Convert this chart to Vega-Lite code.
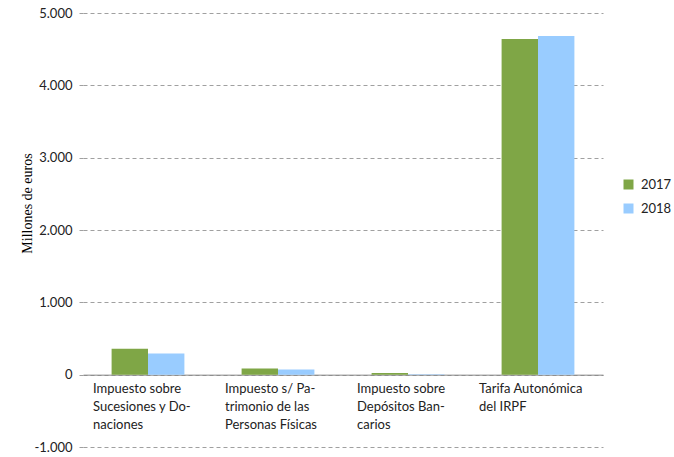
{
  "$schema": "https://vega.github.io/schema/vega-lite/v6.json",
  "width": 520,
  "height": 434,
  "autosize": "none",
  "padding": {"left": 83, "top": 13, "right": 71, "bottom": 10},
  "background": "white",
  "data": {
    "values": [
      {"impuesto": "Impuesto sobre Sucesiones y Donaciones", "year": "2017", "value": 360},
      {"impuesto": "Impuesto sobre Sucesiones y Donaciones", "year": "2018", "value": 291},
      {"impuesto": "Impuesto s/ Patrimonio de las Personas Físicas", "year": "2017", "value": 85},
      {"impuesto": "Impuesto s/ Patrimonio de las Personas Físicas", "year": "2018", "value": 70},
      {"impuesto": "Impuesto sobre Depósitos Bancarios", "year": "2017", "value": 24},
      {"impuesto": "Impuesto sobre Depósitos Bancarios", "year": "2018", "value": 5},
      {"impuesto": "Tarifa Autonómica del IRPF", "year": "2017", "value": 4640},
      {"impuesto": "Tarifa Autonómica del IRPF", "year": "2018", "value": 4681}
    ]
  },
  "mark": {"type": "bar"},
  "encoding": {
    "x": {
      "field": "impuesto",
      "type": "nominal",
      "sort": null,
      "scale": {"paddingInner": 0.44, "paddingOuter": 0.22},
      "axis": {
        "title": null,
        "orient": "bottom",
        "offset": -72.33,
        "domainColor": "#868686",
        "domainWidth": 1,
        "ticks": false,
        "labelAngle": 0,
        "labelAlign": "left",
        "labelBaseline": "top",
        "labelPadding": 8,
        "labelLineHeight": 18,
        "labelFont": "Lato",
        "labelFontSize": 13,
        "labelColor": "#222222",
        "labelLimit": 300,
        "labelOffset": {
          "condition": [
            {"test": "datum.value == 'Impuesto sobre Sucesiones y Donaciones'", "value": -55},
            {"test": "datum.value == 'Impuesto s/ Patrimonio de las Personas Físicas'", "value": -53},
            {"test": "datum.value == 'Impuesto sobre Depósitos Bancarios'", "value": -51}
          ],
          "value": -59
        },
        "labelExpr": "datum.value == 'Impuesto sobre Sucesiones y Donaciones' ? ['Impuesto sobre', 'Sucesiones y Do-', 'naciones'] : datum.value == 'Impuesto s/ Patrimonio de las Personas Físicas' ? ['Impuesto s/ Pa-', 'trimonio de las', 'Personas Físicas'] : datum.value == 'Impuesto sobre Depósitos Bancarios' ? ['Impuesto sobre', 'Depósitos Ban-', 'carios'] : ['Tarifa Autonómica', 'del IRPF']"
      }
    },
    "xOffset": {"field": "year", "type": "nominal"},
    "y": {
      "field": "value",
      "type": "quantitative",
      "scale": {"domain": [-1000, 5000], "nice": false, "zero": false},
      "axis": {
        "title": "Millones de euros",
        "titleFont": "Liberation Serif",
        "titleFontSize": 14,
        "titleFontWeight": "normal",
        "titleColor": "#000000",
        "titleX": -56,
        "titleY": 190,
        "titleAngle": -90,
        "titleAlign": "center",
        "titleBaseline": "middle",
        "values": [-1000, 0, 1000, 2000, 3000, 4000, 5000],
        "labelExpr": "replace(replace(format(datum.value, ','), ',', '.'), '−', '-')",
        "labelFont": "Lato",
        "labelFontSize": 13,
        "labelColor": "#222222",
        "labelPadding": 6,
        "domain": false,
        "grid": true,
        "gridColor": "#a0a0a0",
        "gridDash": [4, 3],
        "ticks": true,
        "tickSize": 5,
        "tickColor": "#a0a0a0",
        "tickDash": [4, 3]
      }
    },
    "color": {
      "field": "year",
      "type": "nominal",
      "scale": {"range": ["#7fa646", "#99ccff"]},
      "legend": {
        "title": null,
        "orient": "none",
        "legendX": 539,
        "legendY": 165,
        "symbolType": "square",
        "symbolSize": 100,
        "symbolStrokeWidth": 0,
        "labelFont": "Lato",
        "labelFontSize": 13,
        "labelColor": "#222222",
        "rowPadding": 10,
        "labelOffset": 6
      }
    }
  },
  "config": {"view": {"stroke": null}}
}
